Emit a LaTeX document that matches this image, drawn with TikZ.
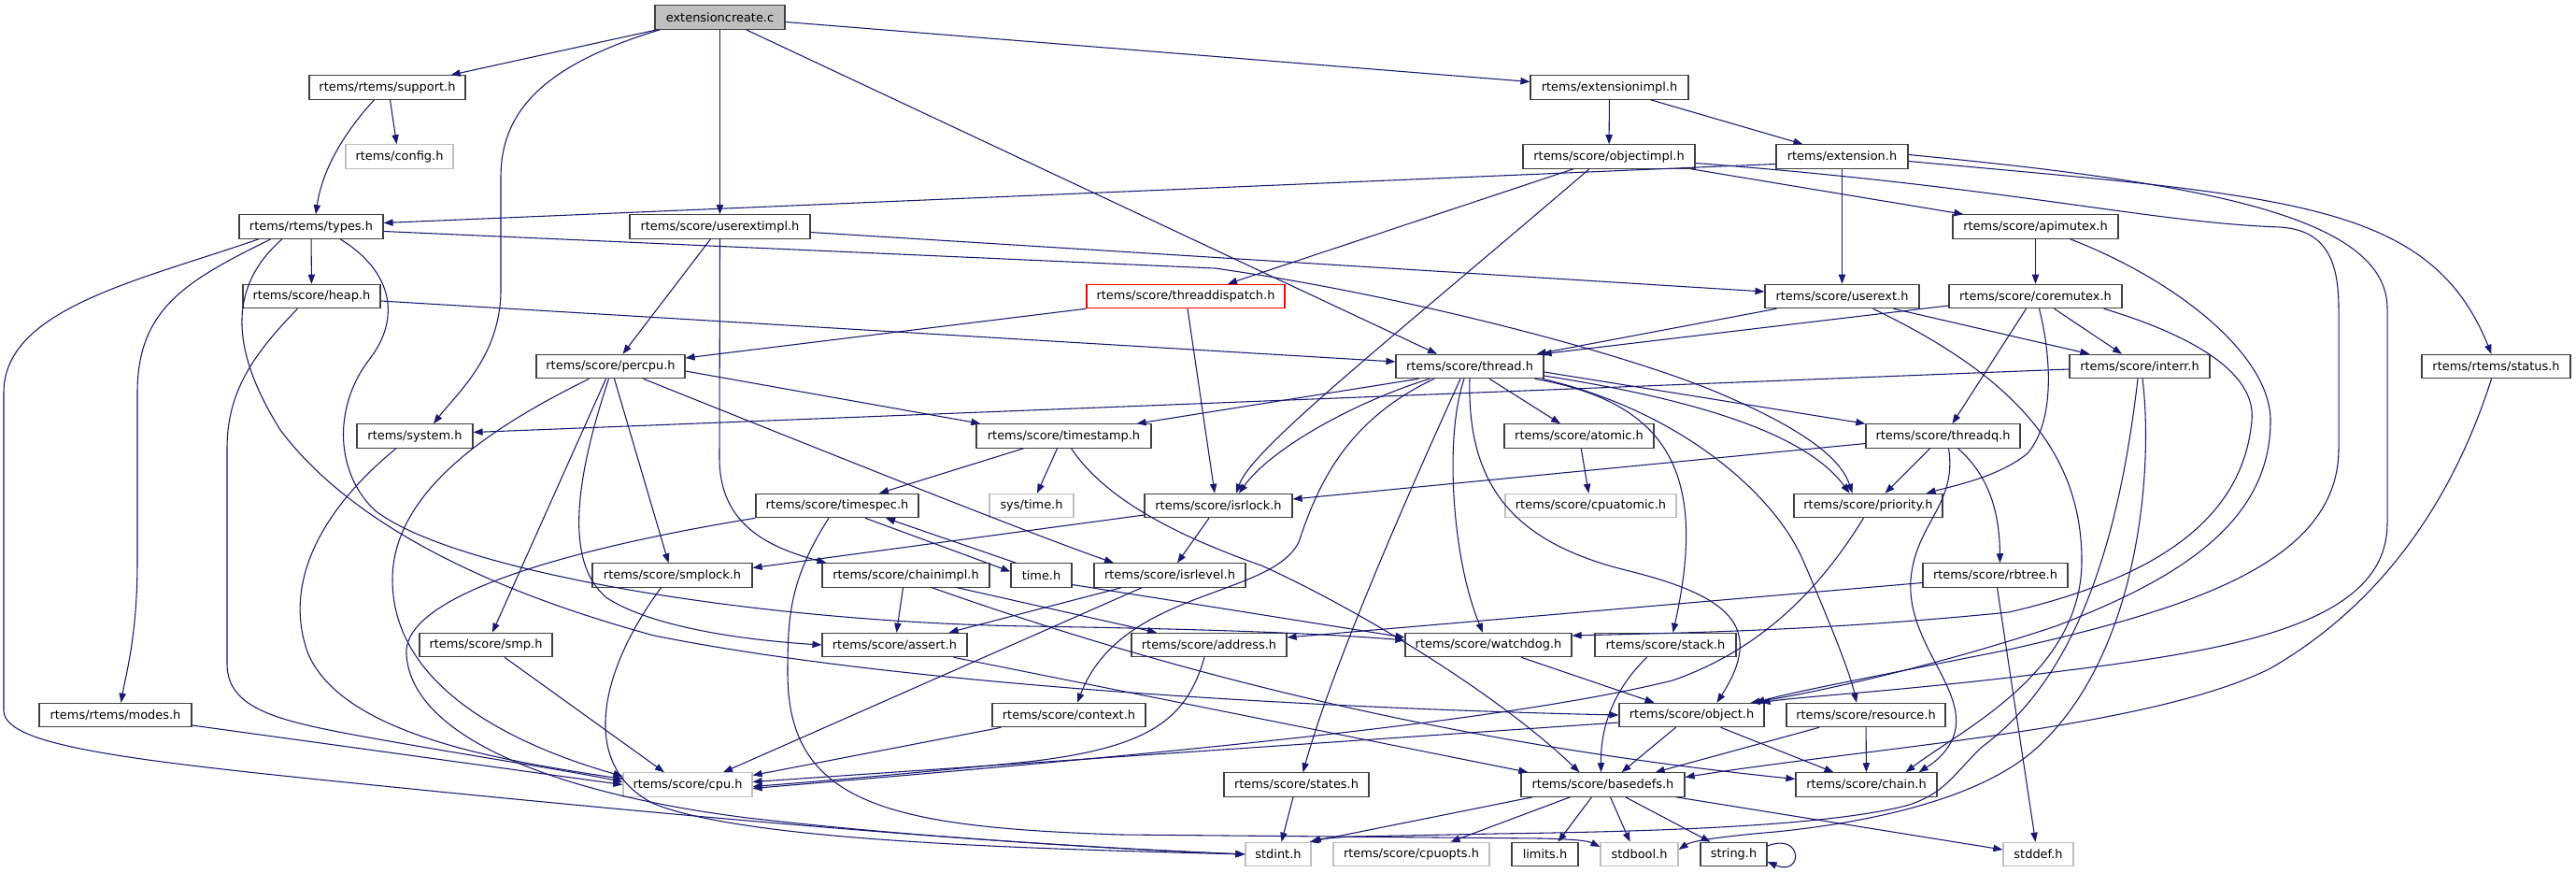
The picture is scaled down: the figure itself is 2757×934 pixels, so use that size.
\documentclass[tikz,border=0pt]{standalone}
\usepackage{fontspec}
\setmainfont{DejaVu Sans}
\usetikzlibrary{arrows.meta,calc}
\definecolor{edgec}{RGB}{25,25,112}
\definecolor{gborder}{RGB}{191,191,191}
\definecolor{bborder}{RGB}{64,64,64}
\begin{document}
\begin{tikzpicture}[x=0.75pt,y=-0.75pt,
  nd/.style={draw=bborder, line width=0.9pt, fill=white, minimum height=19pt, inner sep=0pt, font=\fontsize{9.7}{12}\selectfont, text=black},
  W/.style={minimum width=#1*0.75pt},
  gnd/.style={nd, draw=gborder},
  rnd/.style={nd, draw=red},
  root/.style={nd, fill=gborder},
  e/.style={draw=edgec, line width=0.8pt, -{Triangle[length=7.5pt,width=5.5pt]}}]
\fill[white] (0,0) rectangle (2757,934);
\useasboundingbox (0,0) rectangle (2757,934);
% nodes
\node[root,W=139] (ec) at (770.5,18.5) {extensioncreate.c};
\node[nd,W=167] (support) at (414.5,93.5) {rtems/rtems/support.h};
\node[nd,W=169] (extimpl) at (1722.5,93.5) {rtems/extensionimpl.h};
\node[gnd,W=115] (config) at (427.5,167.5) {rtems/config.h};
\node[nd,W=184] (objimpl) at (1722,167.5) {rtems/score/objectimpl.h};
\node[nd,W=141] (extension) at (1971.5,167.5) {rtems/extension.h};
\node[nd,W=154] (types) at (333,242.5) {rtems/rtems/types.h};
\node[nd,W=193] (userextimpl) at (770.5,242.5) {rtems/score/userextimpl.h};
\node[nd,W=177] (apimutex) at (2178.5,242.5) {rtems/score/apimutex.h};
\node[nd,W=147] (heap) at (333.5,317) {rtems/score/heap.h};
\node[rnd,W=212] (thrdisp) at (1269,317) {rtems/score/threaddispatch.h};
\node[nd,W=165] (userext) at (1971.5,317) {rtems/score/userext.h};
\node[nd,W=185] (coremutex) at (2178.5,317) {rtems/score/coremutex.h};
\node[nd,W=159] (percpu) at (653.5,392) {rtems/score/percpu.h};
\node[nd,W=158] (thread) at (1573,392) {rtems/score/thread.h};
\node[nd,W=150] (interr) at (2290,392) {rtems/score/interr.h};
\node[nd,W=159] (status) at (2671.5,392) {rtems/rtems/status.h};
\node[nd,W=124] (system) at (444,466.5) {rtems/system.h};
\node[nd,W=187] (timestamp) at (1138.5,466.5) {rtems/score/timestamp.h};
\node[nd,W=160] (atomic) at (1690,466.5) {rtems/score/atomic.h};
\node[nd,W=165] (threadq) at (2079.5,466.5) {rtems/score/threadq.h};
\node[nd,W=174] (timespec) at (896,541) {rtems/score/timespec.h};
\node[gnd,W=90] (systime) at (1104,541) {sys/time.h};
\node[nd,W=158] (isrlock) at (1304,541) {rtems/score/isrlock.h};
\node[gnd,W=183] (cpuatomic) at (1702.5,541) {rtems/score/cpuatomic.h};
\node[nd,W=159] (priority) at (1999.5,541) {rtems/score/priority.h};
\node[nd,W=171] (smplock) at (719.5,615.5) {rtems/score/smplock.h};
\node[nd,W=179] (chainimpl) at (969.5,615.5) {rtems/score/chainimpl.h};
\node[nd,W=65] (timeh) at (1114.5,615.5) {time.h};
\node[nd,W=162] (isrlevel) at (1252,615.5) {rtems/score/isrlevel.h};
\node[nd,W=155] (rbtree) at (2135.5,615.5) {rtems/score/rbtree.h};
\node[nd,W=142] (smp) at (520,690) {rtems/score/smp.h};
\node[nd,W=155] (assert) at (957.5,690) {rtems/score/assert.h};
\node[nd,W=166] (address) at (1294,690) {rtems/score/address.h};
\node[nd,W=178] (watchdog) at (1593,690) {rtems/score/watchdog.h};
\node[nd,W=151] (stack) at (1782.5,690) {rtems/score/stack.h};
\node[nd,W=163] (modes) at (123.5,765) {rtems/rtems/modes.h};
\node[nd,W=164] (context) at (1144,765) {rtems/score/context.h};
\node[nd,W=155] (object) at (1810.5,765) {rtems/score/object.h};
\node[nd,W=170] (resource) at (1997,765) {rtems/score/resource.h};
\node[gnd,W=138] (cpu) at (736,839.5) {rtems/score/cpu.h};
\node[nd,W=155] (states) at (1387.5,839.5) {rtems/score/states.h};
\node[nd,W=175] (basedefs) at (1715.5,839.5) {rtems/score/basedefs.h};
\node[nd,W=151] (chain) at (1997.5,839.5) {rtems/score/chain.h};
\node[gnd,W=70] (stdint) at (1368,914) {stdint.h};
\node[gnd,W=167] (cpuopts) at (1510.5,914) {rtems/score/cpuopts.h};
\node[nd,W=71] (limits) at (1653.5,914) {limits.h};
\node[gnd,W=83] (stdbool) at (1754.5,914) {stdbool.h};
\node[nd,W=71] (string) at (1855.5,914) {string.h};
\node[gnd,W=75] (stddef) at (2181.5,914) {stddef.h};
% edges: extensioncreate.c
\draw[e] ($(ec.south west)+(3,0)$) -- ($(support.north east)+(-16,0)$);
\draw[e] ($(ec.south west)+(6,0)$) .. controls (580,70) and (536,120) .. (536,190) -- (536,310) .. controls (536,380) and (490,420) .. ($(system.north)+(20,0)$);
\draw[e] (ec) -- (userextimpl);
\draw[e] ($(ec.south)+(28,0)$) -- ($(thread.north)+(-35,0)$);
\draw[e] ($(ec.east)+(0,5)$) -- ($(extimpl.west)+(0,-6)$);
% support
\draw[e] ($(support.south)+(-14,0)$) .. controls (370,140) and (345,180) .. ($(types.north)+(5,0)$);
\draw[e] ($(support.south)+(3,0)$) -- ($(config.north)+(-3,0)$);
% extensionimpl
\draw[e] (extimpl) -- (objimpl);
\draw[e] ($(extimpl.south)+(44,0)$) -- ($(extension.north)+(-42,0)$);
% objectimpl
\draw[e] ($(objimpl.south)+(-38,0)$) -- ($(thrdisp.north)+(45,0)$);
\draw[e] ($(objimpl.south)+(-21,0)$) .. controls (1480,370) and (1340,480) .. ($(isrlock.north)+(19,0)$);
\draw[e] ($(objimpl.south east)+(-5,0)$) -- ($(apimutex.north west)+(12,0)$);
\draw[e] ($(objimpl.east)+(0,7)$) .. controls (2150,200) and (2300,238) .. (2440,243) .. controls (2490,246) and (2503,280) .. (2503,330) -- (2503,480) .. controls (2503,600) and (2350,650) .. (2150,695) .. controls (2000,725) and (1920,740) .. ($(object.north east)+(-10,0)$);
% extension
\draw[e] ($(extension.west)+(0,8)$) -- ($(types.east)+(0,-4)$);
\draw[e] (extension) -- (userext);
\draw[e] ($(extension.east)+(0,5)$) .. controls (2450,210) and (2600,215) .. ($(status.north)+(-5,0)$);
\draw[e] ($(extension.east)+(0,-2)$) .. controls (2350,195) and (2555,230) .. (2555,330) -- (2555,560) .. controls (2555,680) and (2350,700) .. (2150,725) .. controls (2000,742) and (1930,745) .. ($(object.north east)+(-4,0)$);
% types
\draw[e] (types) -- (heap);
\draw[e] ($(types.south)+(-43,0)$) .. controls (200,300) and (147,330) .. (147,420) -- (147,600) .. controls (147,680) and (135,720) .. ($(modes.north)+(6,0)$);
\draw[e] ($(types.south)+(-56,0)$) .. controls (150,300) and (4,330) .. (4,420) -- (4,760) .. controls (4,800) and (150,815) .. (450,845) .. controls (800,880) and (1100,905) .. (stdint.west);
\draw[e] ($(types.east)+(0,5)$) -- (1300,287) .. controls (1500,315) and (1750,380) .. (1850,425) .. controls (1930,460) and (1970,490) .. ($(priority.north)+(-17,0)$);
\draw[e] ($(types.south)+(-31,0)$) .. controls (240,310) and (250,380) .. (300,460) .. controls (360,540) and (480,620) .. (700,680) .. controls (1000,740) and (1500,760) .. (object.west);
\draw[e] ($(types.south)+(31,0)$) .. controls (420,290) and (430,340) .. (395,385) .. controls (360,430) and (355,500) .. (400,545) .. controls (480,610) and (800,665) .. (1100,670) .. controls (1300,673) and (1420,678) .. ($(watchdog.west)+(0,-5)$);
% userextimpl
\draw[e] ($(userextimpl.south)+(-10,0)$) -- ($(percpu.north)+(13,0)$);
\draw[e] (userextimpl.south) -- (770,490) .. controls (770,560) and (820,585) .. ($(chainimpl.north)+(-85,0)$);
\draw[e] ($(userextimpl.east)+(0,6)$) -- ($(userext.west)+(0,-5)$);
% apimutex
\draw[e] (apimutex) -- (coremutex);
\draw[e] ($(apimutex.south)+(37,0)$) .. controls (2330,300) and (2430,380) .. (2430,450) .. controls (2430,560) and (2330,620) .. (2200,670) .. controls (2080,710) and (1950,740) .. ($(object.north east)+(-15,0)$);
% heap
\draw[e] ($(heap.east)+(0,5)$) -- ($(thread.west)+(0,-5)$);
\draw[e] ($(heap.south)+(-15,0)$) .. controls (270,380) and (243,420) .. (243,480) -- (243,710) .. controls (243,760) and (300,772) .. (400,790) .. controls (500,808) and (600,823) .. ($(cpu.west)+(0,-3)$);
% threaddispatch
\draw[e] (thrdisp.south west) -- ($(percpu.east)+(0,-9)$);
\draw[e] ($(thrdisp.south)+(2,0)$) -- ($(isrlock.north)+(-4,0)$);
% userext
\draw[e] ($(userext.south west)+(13,0)$) -- ($(thread.north east)+(-8,0)$);
\draw[e] ($(userext.south)+(55,0)$) -- ($(interr.north west)+(22,0)$);
\draw[e] ($(userext.south)+(33,0)$) .. controls (2150,400) and (2228,480) .. (2228,600) .. controls (2228,720) and (2100,780) .. ($(chain.north east)+(-34,0)$);
% coremutex
\draw[e] ($(coremutex.west)+(0,10)$) -- ($(thread.north east)+(-2,0)$);
\draw[e] ($(coremutex.south)+(-10,0)$) -- ($(threadq.north)+(10,0)$);
\draw[e] ($(coremutex.south)+(4,0)$) .. controls (2195,380) and (2200,450) .. (2170,485) .. controls (2140,510) and (2090,520) .. ($(priority.north east)+(-18,0)$);
\draw[e] ($(coremutex.south)+(20,0)$) -- ($(interr.north)+(-19,0)$);
\draw[e] ($(coremutex.south east)+(-20,0)$) .. controls (2350,360) and (2415,400) .. (2410,450) .. controls (2400,560) and (2300,620) .. (2150,655) .. controls (1950,675) and (1800,677) .. ($(watchdog.east)+(0,-10)$);
% percpu
\draw[e] ($(percpu.south)+(-23,0)$) .. controls (540,450) and (420,520) .. (420,620) .. controls (420,740) and (560,800) .. ($(cpu.west)+(0,-9)$);
\draw[e] ($(percpu.south)+(-5,0)$) -- ($(smp.north)+(7,0)$);
\draw[e] ($(percpu.south)+(-2,0)$) .. controls (620,500) and (600,600) .. (650,640) .. controls (700,672) and (800,685) .. (assert.west);
\draw[e] ($(percpu.south)+(4,0)$) -- ($(smplock.north)+(-4,0)$);
\draw[e] ($(percpu.south)+(35,0)$) .. controls (900,490) and (1100,570) .. ($(isrlevel.north)+(-60,0)$);
\draw[e] ($(percpu.east)+(0,5)$) -- ($(timestamp.north west)+(5,0)$);
% thread
\draw[e] ($(thread.south west)+(25,0)$) -- ($(timestamp.north east)+(-16,0)$);
\draw[e] ($(thread.south)+(-43,0)$) .. controls (1450,430) and (1360,480) .. ($(isrlock.north)+(22,0)$);
\draw[e] ($(thread.south)+(-38,0)$) .. controls (1440,450) and (1410,520) .. (1390,580) .. controls (1360,640) and (1200,630) .. ($(context.north)+(9,0)$);
\draw[e] ($(thread.south)+(-10,0)$) .. controls (1520,500) and (1430,700) .. ($(states.north)+(7,0)$);
\draw[e] ($(thread.south)+(-6,0)$) .. controls (1545,470) and (1555,600) .. ($(watchdog.north)+(-6,0)$);
\draw[e] (thread.south) .. controls (1570,520) and (1620,580) .. (1740,610) .. controls (1850,637) and (1890,670) .. ($(object.north)+(27,0)$);
\draw[e] ($(thread.south)+(21,0)$) -- ($(atomic.north)+(-20,0)$);
\draw[e] ($(thread.south east)+(-10,0)$) .. controls (1780,430) and (1830,500) .. ($(stack.north)+(8,0)$);
\draw[e] ($(thread.south east)+(-2,0)$) .. controls (1800,440) and (1900,530) .. (1930,600) .. controls (1960,670) and (1980,720) .. ($(resource.north)+(-10,0)$);
\draw[e] ($(thread.east)+(0,6)$) -- (threadq.north west);
\draw[e] ($(thread.east)+(0,10)$) .. controls (1800,425) and (1930,460) .. ($(priority.north)+(-20,0)$);
% interr
\draw[e] ($(interr.west)+(0,3)$) -- ($(system.east)+(0,-4)$);
\draw[e] ($(interr.south)+(-2,0)$) .. controls (2270,560) and (2230,720) .. (2120,800) .. controls (2090,830) and (2080,850) .. (2040,862) .. controls (1950,885) and (1750,890) .. (1600,892) -- (1450,895) .. controls (1425,896) and (1412,898) .. (stdint.north east);
\draw[e] ($(interr.south)+(3,0)$) .. controls (2305,500) and (2290,700) .. (2180,800) .. controls (2120,855) and (2000,880) .. (1900,890) .. controls (1840,895) and (1810,900) .. ($(stdbool.east)+(0,-5)$);
% status
\draw[e] ($(status.south)+(-5,0)$) .. controls (2630,520) and (2560,640) .. (2430,715) .. controls (2300,780) and (2000,800) .. ($(basedefs.east)+(0,-8)$);
% system
\draw[e] ($(system.south)+(-20,0)$) .. controls (350,540) and (300,620) .. (330,700) .. controls (370,790) and (550,815) .. ($(cpu.west)+(0,-6)$);
% timestamp
\draw[e] ($(timestamp.south)+(-43,0)$) -- ($(timespec.north)+(45,0)$);
\draw[e] ($(timestamp.south)+(-7,0)$) -- ($(systime.north)+(6,0)$);
\draw[e] ($(timestamp.south)+(8,0)$) .. controls (1180,530) and (1250,570) .. (1350,605) .. controls (1450,650) and (1600,740) .. ($(basedefs.north)+(-25,0)$);
% atomic
\draw[e] (atomic) -- (cpuatomic);
% threadq
\draw[e] ($(threadq.south)+(-14,0)$) -- ($(priority.north)+(18,0)$);
\draw[e] ($(threadq.south)+(16,0)$) .. controls (2130,510) and (2140,550) .. ($(rbtree.north)+(5,0)$);
\draw[e] ($(threadq.west)+(0,8)$) -- ($(isrlock.east)+(0,-7)$);
\draw[e] ($(threadq.south)+(6,0)$) .. controls (2095,540) and (2050,560) .. (2045,620) .. controls (2040,690) and (2110,740) .. (2090,790) .. controls (2080,812) and (2060,822) .. ($(chain.north east)+(-20,0)$);
% timespec
\draw[e] ($(timespec.south)+(30,0)$) -- ($(timeh.west)+(0,-4)$);
\draw[e] ($(timeh.north west)+(6,0)$) -- ($(timespec.south)+(52,0)$);
\draw[e] (timespec.south west) .. controls (650,580) and (430,630) .. (435,700) .. controls (440,790) and (600,850) .. (800,875) .. controls (1000,898) and (1200,908) .. (stdint.west);
\draw[e] ($(timespec.south)+(-9,0)$) .. controls (845,620) and (843,660) .. (843,720) .. controls (843,860) and (950,885) .. (1200,893) -- (1650,897) .. controls (1690,898) and (1700,900) .. ($(stdbool.west)+(0,-8)$);
% isrlock
\draw[e] ($(isrlock.south)+(-10,0)$) -- ($(isrlevel.north)+(8,0)$);
\draw[e] ($(isrlock.west)+(0,10)$) -- ($(smplock.east)+(0,-8)$);
% priority
\draw[e] ($(priority.south)+(-5,0)$) .. controls (1960,610) and (1900,690) .. (1790,728) .. controls (1600,775) and (1200,810) .. ($(cpu.east)+(0,4)$);
% smplock
\draw[e] ($(smplock.south)+(-12,0)$) .. controls (640,720) and (620,820) .. (700,860) .. controls (800,900) and (1100,908) .. (stdint.west);
% rbtree
\draw[e] ($(rbtree.west)+(0,8)$) -- ($(address.east)+(0,-8)$);
\draw[e] ($(rbtree.south)+(2,0)$) -- ($(stddef.north)+(-3,0)$);
% smp, assert, address, watchdog, stack, modes, context
\draw[e] ($(smp.south)+(20,0)$) -- ($(cpu.north)+(-25,0)$);
\draw[e] ($(assert.south east)+(-15,0)$) -- ($(basedefs.north west)+(8,0)$);
\draw[e] ($(address.south)+(-5,0)$) .. controls (1270,770) and (1230,800) .. (1100,815) .. controls (950,830) and (850,838) .. ($(cpu.east)+(0,2)$);
\draw[e] ($(watchdog.south)+(35,0)$) -- ($(object.north)+(-40,0)$);
\draw[e] ($(stack.south)+(-20,0)$) .. controls (1725,740) and (1713,780) .. ($(basedefs.north)+(-2,0)$);
\draw[e] ($(modes.east)+(0,11)$) -- (cpu.west);
\draw[e] ($(context.south west)+(10,0)$) -- ($(cpu.east)+(0,-10)$);
% object
\draw[e] ($(object.south)+(-17,0)$) -- ($(basedefs.north)+(20,0)$);
\draw[e] ($(object.south)+(31,0)$) -- ($(chain.north)+(-35,0)$);
\draw[e] ($(object.west)+(0,8)$) -- ($(cpu.east)+(0,-3)$);
% resource
\draw[e] ($(resource.south)+(-50,0)$) -- ($(basedefs.north east)+(-32,0)$);
\draw[e] (resource) -- (chain);
% states
\draw[e] (states) -- (stdint);
% basedefs
\draw[e] ($(basedefs.south west)+(13,0)$) -- ($(stdint.north east)+(-2,0)$);
\draw[e] ($(basedefs.south)+(-35,0)$) -- ($(cpuopts.north)+(42,0)$);
\draw[e] ($(basedefs.south)+(-12,0)$) -- ($(limits.north)+(14,0)$);
\draw[e] ($(basedefs.south)+(8,0)$) -- ($(stdbool.north)+(-10,0)$);
\draw[e] ($(basedefs.south)+(24,0)$) -- ($(string.north)+(-25,0)$);
\draw[e] ($(basedefs.south east)+(-10,0)$) -- ($(stddef.west)+(0,-5)$);
% chainimpl
\draw[e] ($(chainimpl.south)+(-3,0)$) -- ($(assert.north)+(2,0)$);
\draw[e] ($(chainimpl.south east)+(-35,0)$) -- ($(address.north)+(-56,0)$);
\draw[e] ($(chainimpl.south)+(28,0)$) .. controls (1200,700) and (1500,790) .. ($(chain.west)+(0,-6)$);
% isrlevel
\draw[e] ($(isrlevel.south)+(-52,0)$) -- ($(assert.north east)+(-20,0)$);
\draw[e] ($(isrlevel.south)+(-30,0)$) -- ($(cpu.north)+(38,0)$);
% time.h
\draw[e] ($(timeh.east)+(0,10)$) -- ($(watchdog.west)+(0,-8)$);
% string.h self loop
\draw[e] ($(string.east)+(0,-9)$) .. controls (1930,890) and (1930,938) .. ($(string.east)+(0,8)$);
\end{tikzpicture}
\end{document}
